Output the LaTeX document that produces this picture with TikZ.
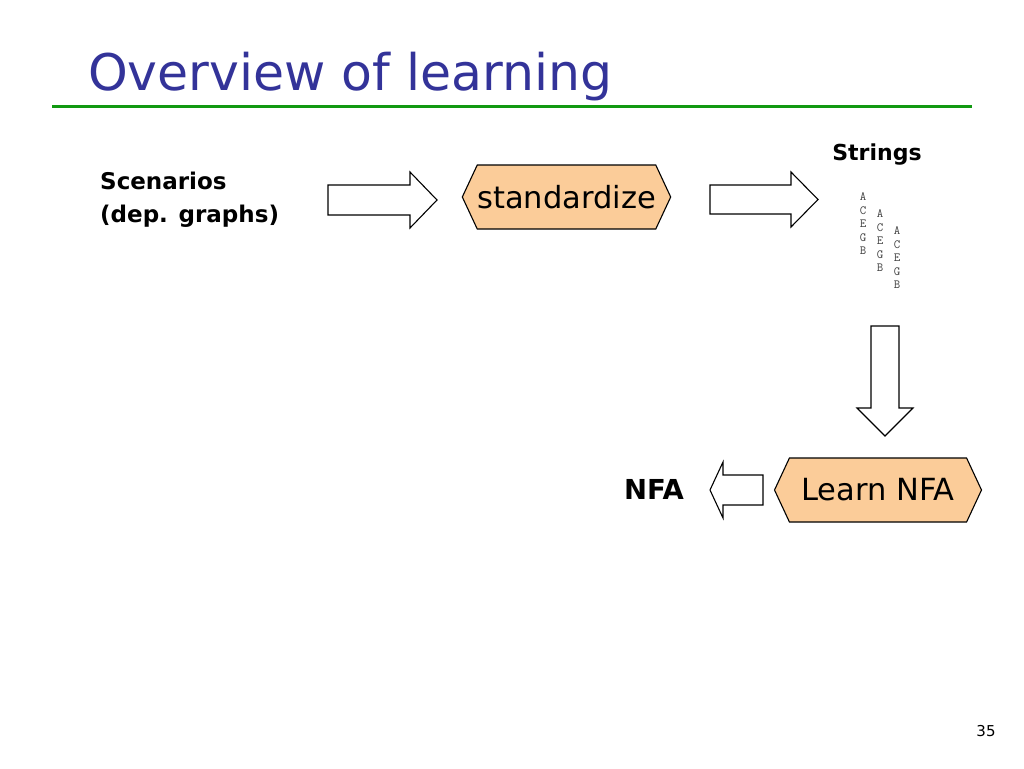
\documentclass[tikz,border=0pt]{standalone}
\usepackage{fontspec}
\setmainfont{DejaVu Sans}
\usetikzlibrary{shapes.symbols}
\definecolor{titleblue}{RGB}{51,51,153}
\definecolor{rulegreen}{RGB}{17,153,17}
\definecolor{stepfill}{RGB}{251,204,153}
\tikzset{
  stepbox/.style={signal, signal to=west and east, signal pointer angle=130, draw, line width=1.1pt, fill=stepfill, inner sep=0pt, minimum width=207pt, minimum height=64pt, font=\fontsize{30.5}{32}\selectfont},
  blockarrow/.style={draw, line width=1.1pt, fill=white, line join=miter},
  textlabel/.style={font=\bfseries\fontsize{23}{33}\selectfont, align=left, inner sep=0pt},
  strch/.style={font=\ttfamily\fontsize{12.5}{12.5}\selectfont, text=black!75, inner sep=0pt}
}
\begin{document}
\begin{tikzpicture}[x=1pt,y=-1pt]
\useasboundingbox (0,0) rectangle (1024,768);
\node[anchor=base west, text=titleblue, font=\fontsize{50.5}{60}\selectfont, inner sep=0pt] (title) at (88,90) {Overview of learning};
\draw[rulegreen, line width=3pt] (52,106) -- (972,106);
\node[textlabel, anchor=west] (scen) at (100,200) {Scenarios\\(dep. graphs)};
\draw[blockarrow] (328,185) -- (410,185) -- (410,172) -- (437,200) -- (410,228) -- (410,215) -- (328,215) -- cycle;
\node[stepbox] (std) at (566.5,197) {standardize};
\draw[blockarrow] (710,185) -- (791,185) -- (791,172) -- (818,199.5) -- (791,227) -- (791,214) -- (710,214) -- cycle;
\node[textlabel, font=\bfseries\fontsize{22}{30}\selectfont] (str) at (877,155) {Strings};
\foreach \c in {0,1,2}{
  \foreach \l [count=\i] in {A,C,E,G,B}{
    \node[strch] (s\c\i) at (863+17*\c, 197+17*\c+13.4*\i-13.4) {\l};
}}
\draw[blockarrow] (871,326) -- (899,326) -- (899,408) -- (913,408) -- (885,436) -- (857,408) -- (871,408) -- cycle;
\node[stepbox] (nfa) at (878,490) {Learn NFA};
\draw[blockarrow] (763,475) -- (723,475) -- (723,462) -- (710,490) -- (723,518) -- (723,505) -- (763,505) -- cycle;
\node[textlabel, font=\bfseries\fontsize{27.5}{30}\selectfont] (out) at (654,489) {NFA};
\node[font=\fontsize{15}{15}\selectfont] (pg) at (986,731) {35};
\end{tikzpicture}
\end{document}
